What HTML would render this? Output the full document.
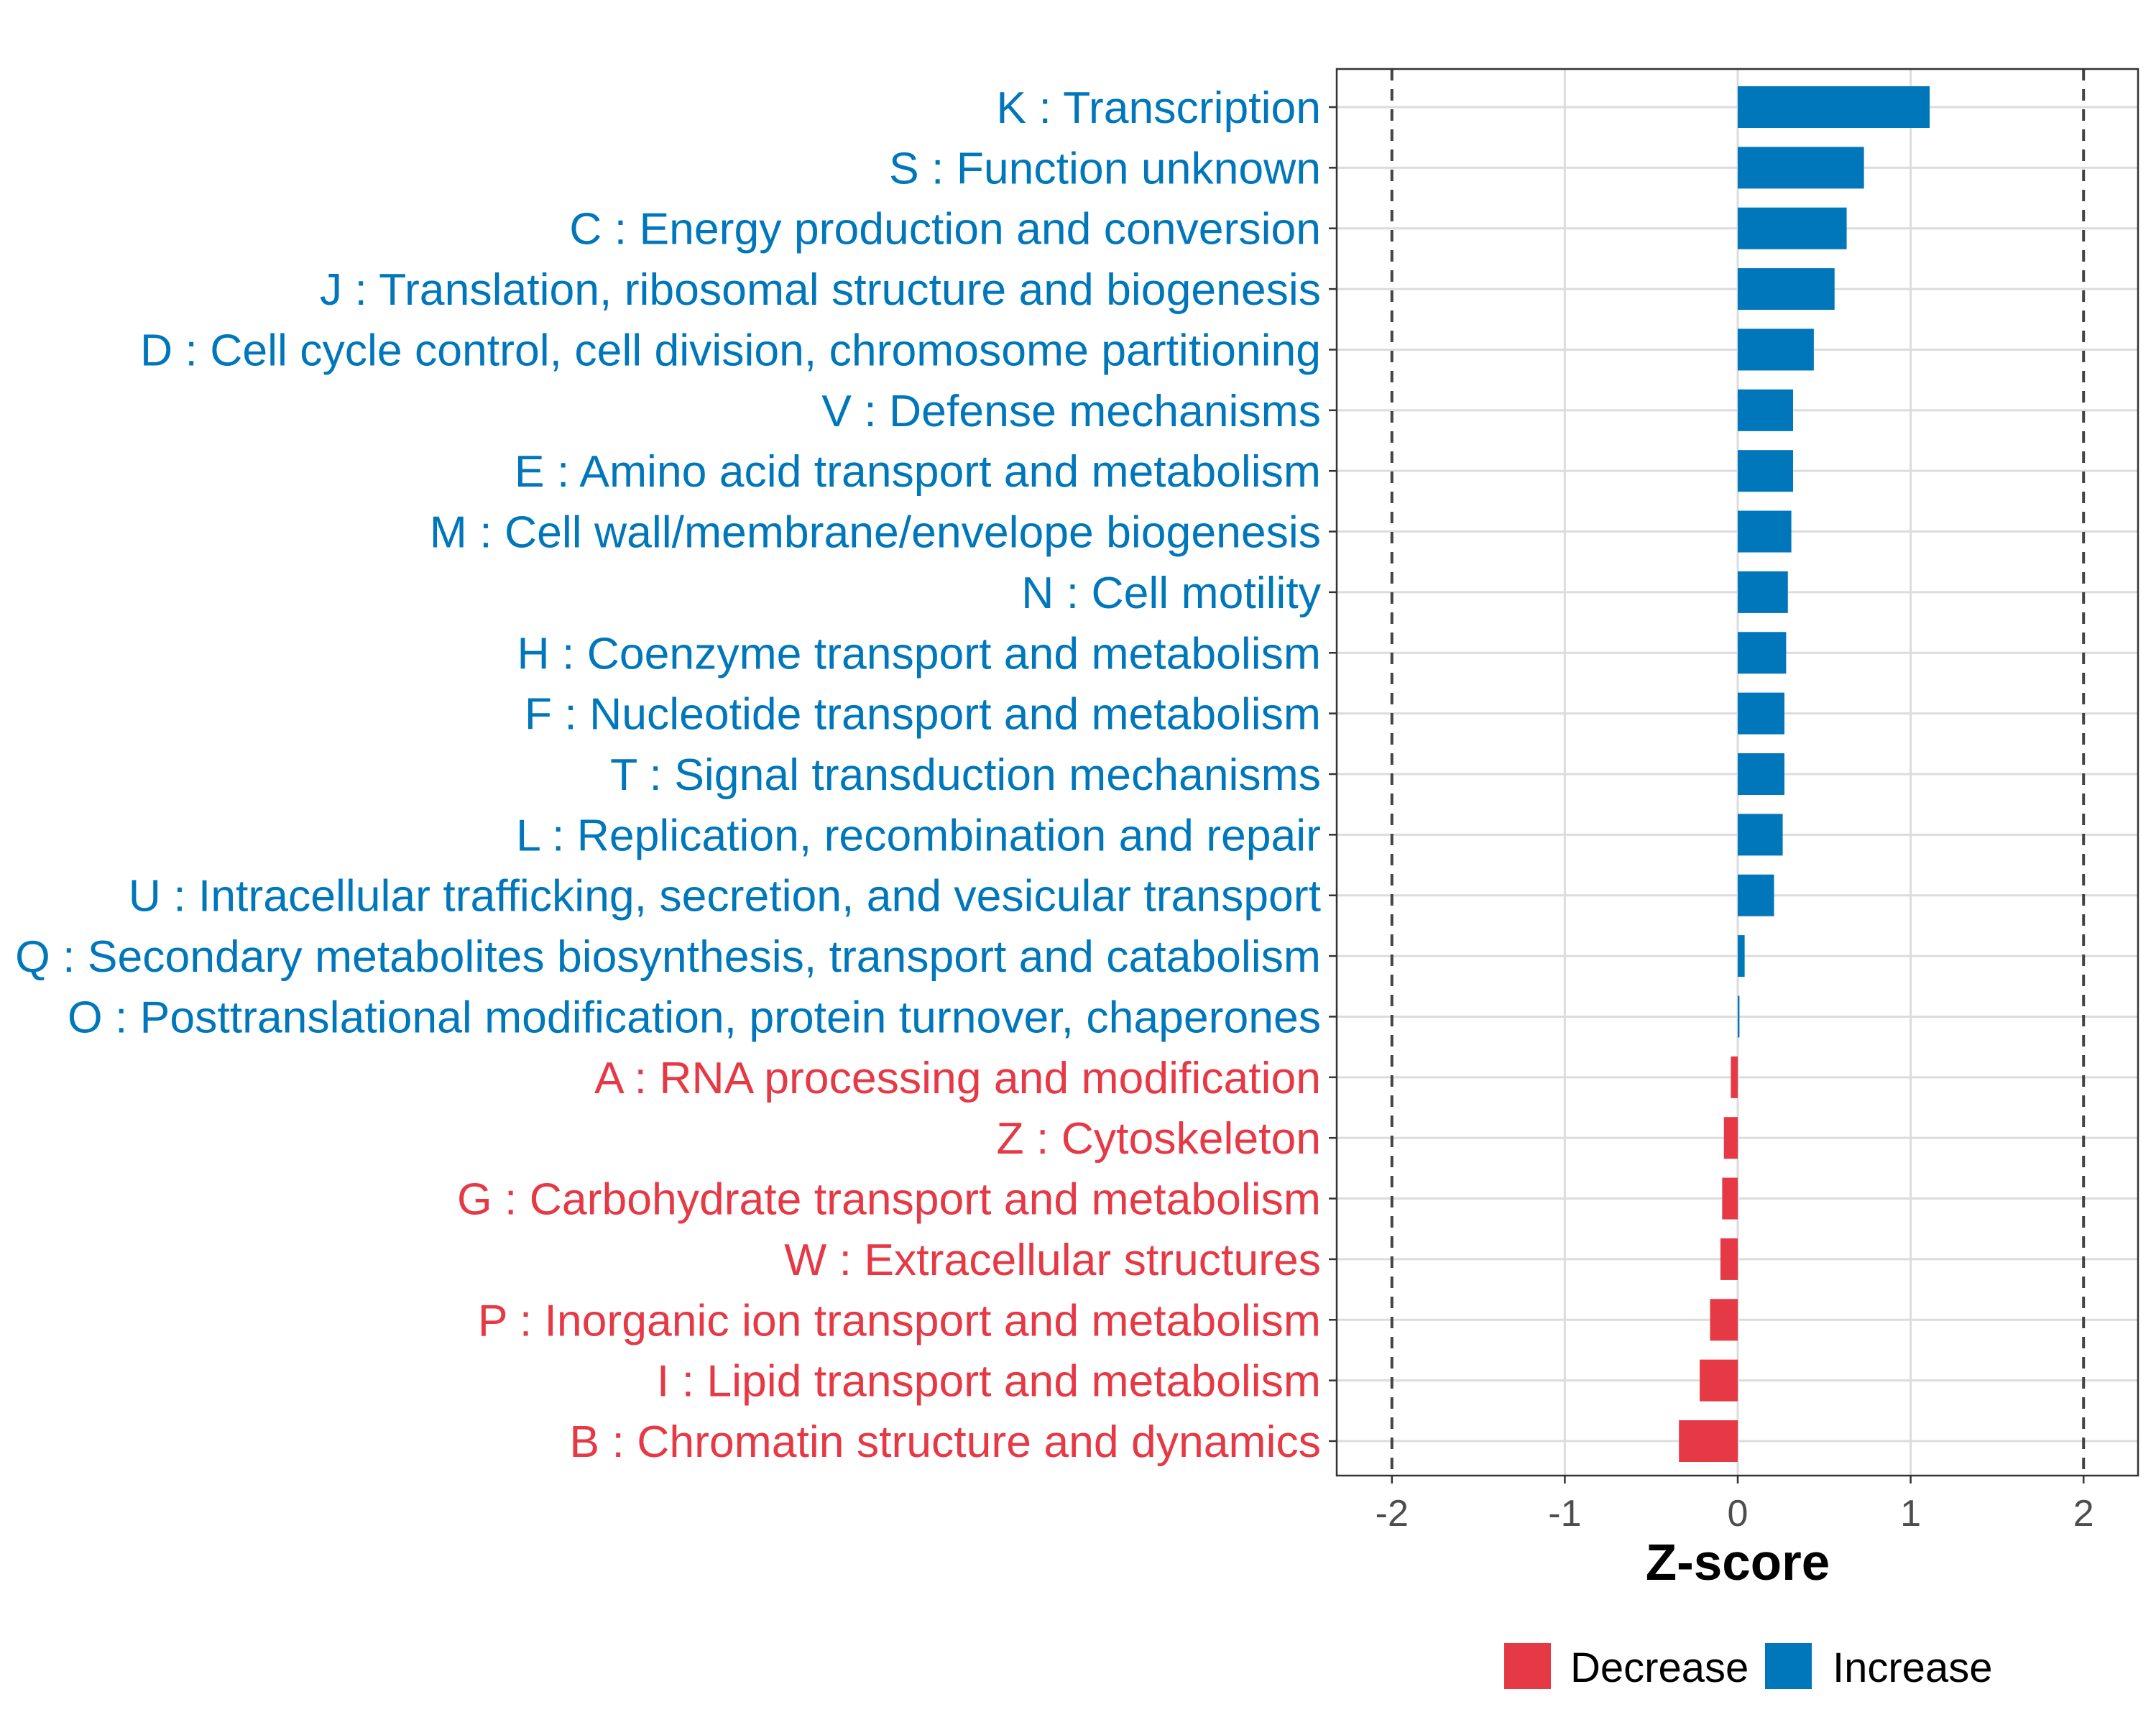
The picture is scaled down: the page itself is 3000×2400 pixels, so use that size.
<!DOCTYPE html>
<html><head><meta charset="utf-8"><style>
html,body{margin:0;padding:0;background:#fff;}
svg{display:block;font-family:"Liberation Sans",Arial,sans-serif;}
</style></head><body>
<svg id="chart" width="3000" height="2400" viewBox="0 0 3000 2400" xmlns="http://www.w3.org/2000/svg">
<rect width="3000" height="2400" fill="#fff"/>
<g id="grid"></g><g id="bars"></g><g id="labels"></g><g id="axis"></g>
<rect x="1860" y="96" width="1115" height="1957" fill="none" stroke="#333" stroke-width="2.5"/>
<text x="2418" y="2198" text-anchor="middle" font-size="71" font-weight="bold" fill="#000">Z-score</text>
<g>
<rect x="2093" y="2286" width="65" height="64" fill="#E63946"/>
<text x="2185" y="2340" font-size="58" fill="#000">Decrease</text>
<rect x="2456" y="2286" width="65" height="64" fill="#0077BB"/>
<text x="2550" y="2340" font-size="58" fill="#000">Increase</text>
</g>
</svg>
<script>
const categories=["K : Transcription","S : Function unknown","C : Energy production and conversion","J : Translation, ribosomal structure and biogenesis","D : Cell cycle control, cell division, chromosome partitioning","V : Defense mechanisms","E : Amino acid transport and metabolism","M : Cell wall/membrane/envelope biogenesis","N : Cell motility","H : Coenzyme transport and metabolism","F : Nucleotide transport and metabolism","T : Signal transduction mechanisms","L : Replication, recombination and repair","U : Intracellular trafficking, secretion, and vesicular transport","Q : Secondary metabolites biosynthesis, transport and catabolism","O : Posttranslational modification, protein turnover, chaperones","A : RNA processing and modification","Z : Cytoskeleton","G : Carbohydrate transport and metabolism","W : Extracellular structures","P : Inorganic ion transport and metabolism","I : Lipid transport and metabolism","B : Chromatin structure and dynamics"];
const zscores=[1.11,0.73,0.63,0.56,0.44,0.32,0.32,0.31,0.29,0.28,0.27,0.27,0.26,0.21,0.04,0.01,-0.04,-0.08,-0.09,-0.1,-0.16,-0.22,-0.34];
const xTicks=[-2,-1,0,1,2];
const xTickLabels=["-2","-1","0","1","2"];
const NS="http://www.w3.org/2000/svg";
const x0=1860,x1=2975,y0=96,y1=2053;
function xs(v){return 2418+v*240.6;}
function ys(i){return 149+i*(2005-149)/(categories.length-1);}
function mk(t,a,p){const e=document.createElementNS(NS,t);for(const k in a)e.setAttribute(k,a[k]);p.appendChild(e);return e;}
const grid=document.getElementById('grid'),bars=document.getElementById('bars'),labels=document.getElementById('labels'),axis=document.getElementById('axis');
xTicks.forEach((v,i)=>{
 if(Math.abs(v)<2){const l=mk('line',{x1:xs(v),x2:xs(v),y1:y0,y2:y1,stroke:'#dcdcdc','stroke-width':3},grid);
 
 }
 const t=mk('line',{x1:xs(v),x2:xs(v),y1:y1,y2:y1+11,stroke:'#333','stroke-width':2.5},axis);
 
 
 const tx=mk('text',{x:xs(v),y:y1+70,'text-anchor':'middle','font-size':52,fill:'#4d4d4d'},axis);
 tx.textContent=xTickLabels[i];
 
 
});
categories.forEach((c,i)=>{
 const y=ys(i);
 const g=mk('line',{x1:x0,x2:x1,y1:y,y2:y,stroke:'#dcdcdc','stroke-width':3},grid);
 
 
 const v=zscores[i],col=v>=0?'#0077BB':'#E63946';
 const b=mk('rect',{x:Math.min(xs(0),xs(v)),y:y-29,width:Math.max(1.5,Math.abs(xs(v)-xs(0))),height:58,fill:col},bars);
 
 
 const t=mk('line',{x1:x0-11,x2:x0,y1:y,y2:y,stroke:'#333','stroke-width':2.5},axis);
 
 
 const tx=mk('text',{x:1838,y:y+22,'text-anchor':'end','font-size':62.5,fill:col},labels);
 tx.textContent=c;
 
 
});
[-2,2].forEach(v=>{const l=mk('line',{x1:xs(v),x2:xs(v),y1:y0,y2:y1,stroke:'#444','stroke-width':4,'stroke-dasharray':'16,12'},grid);

});
</script>
</body></html>
